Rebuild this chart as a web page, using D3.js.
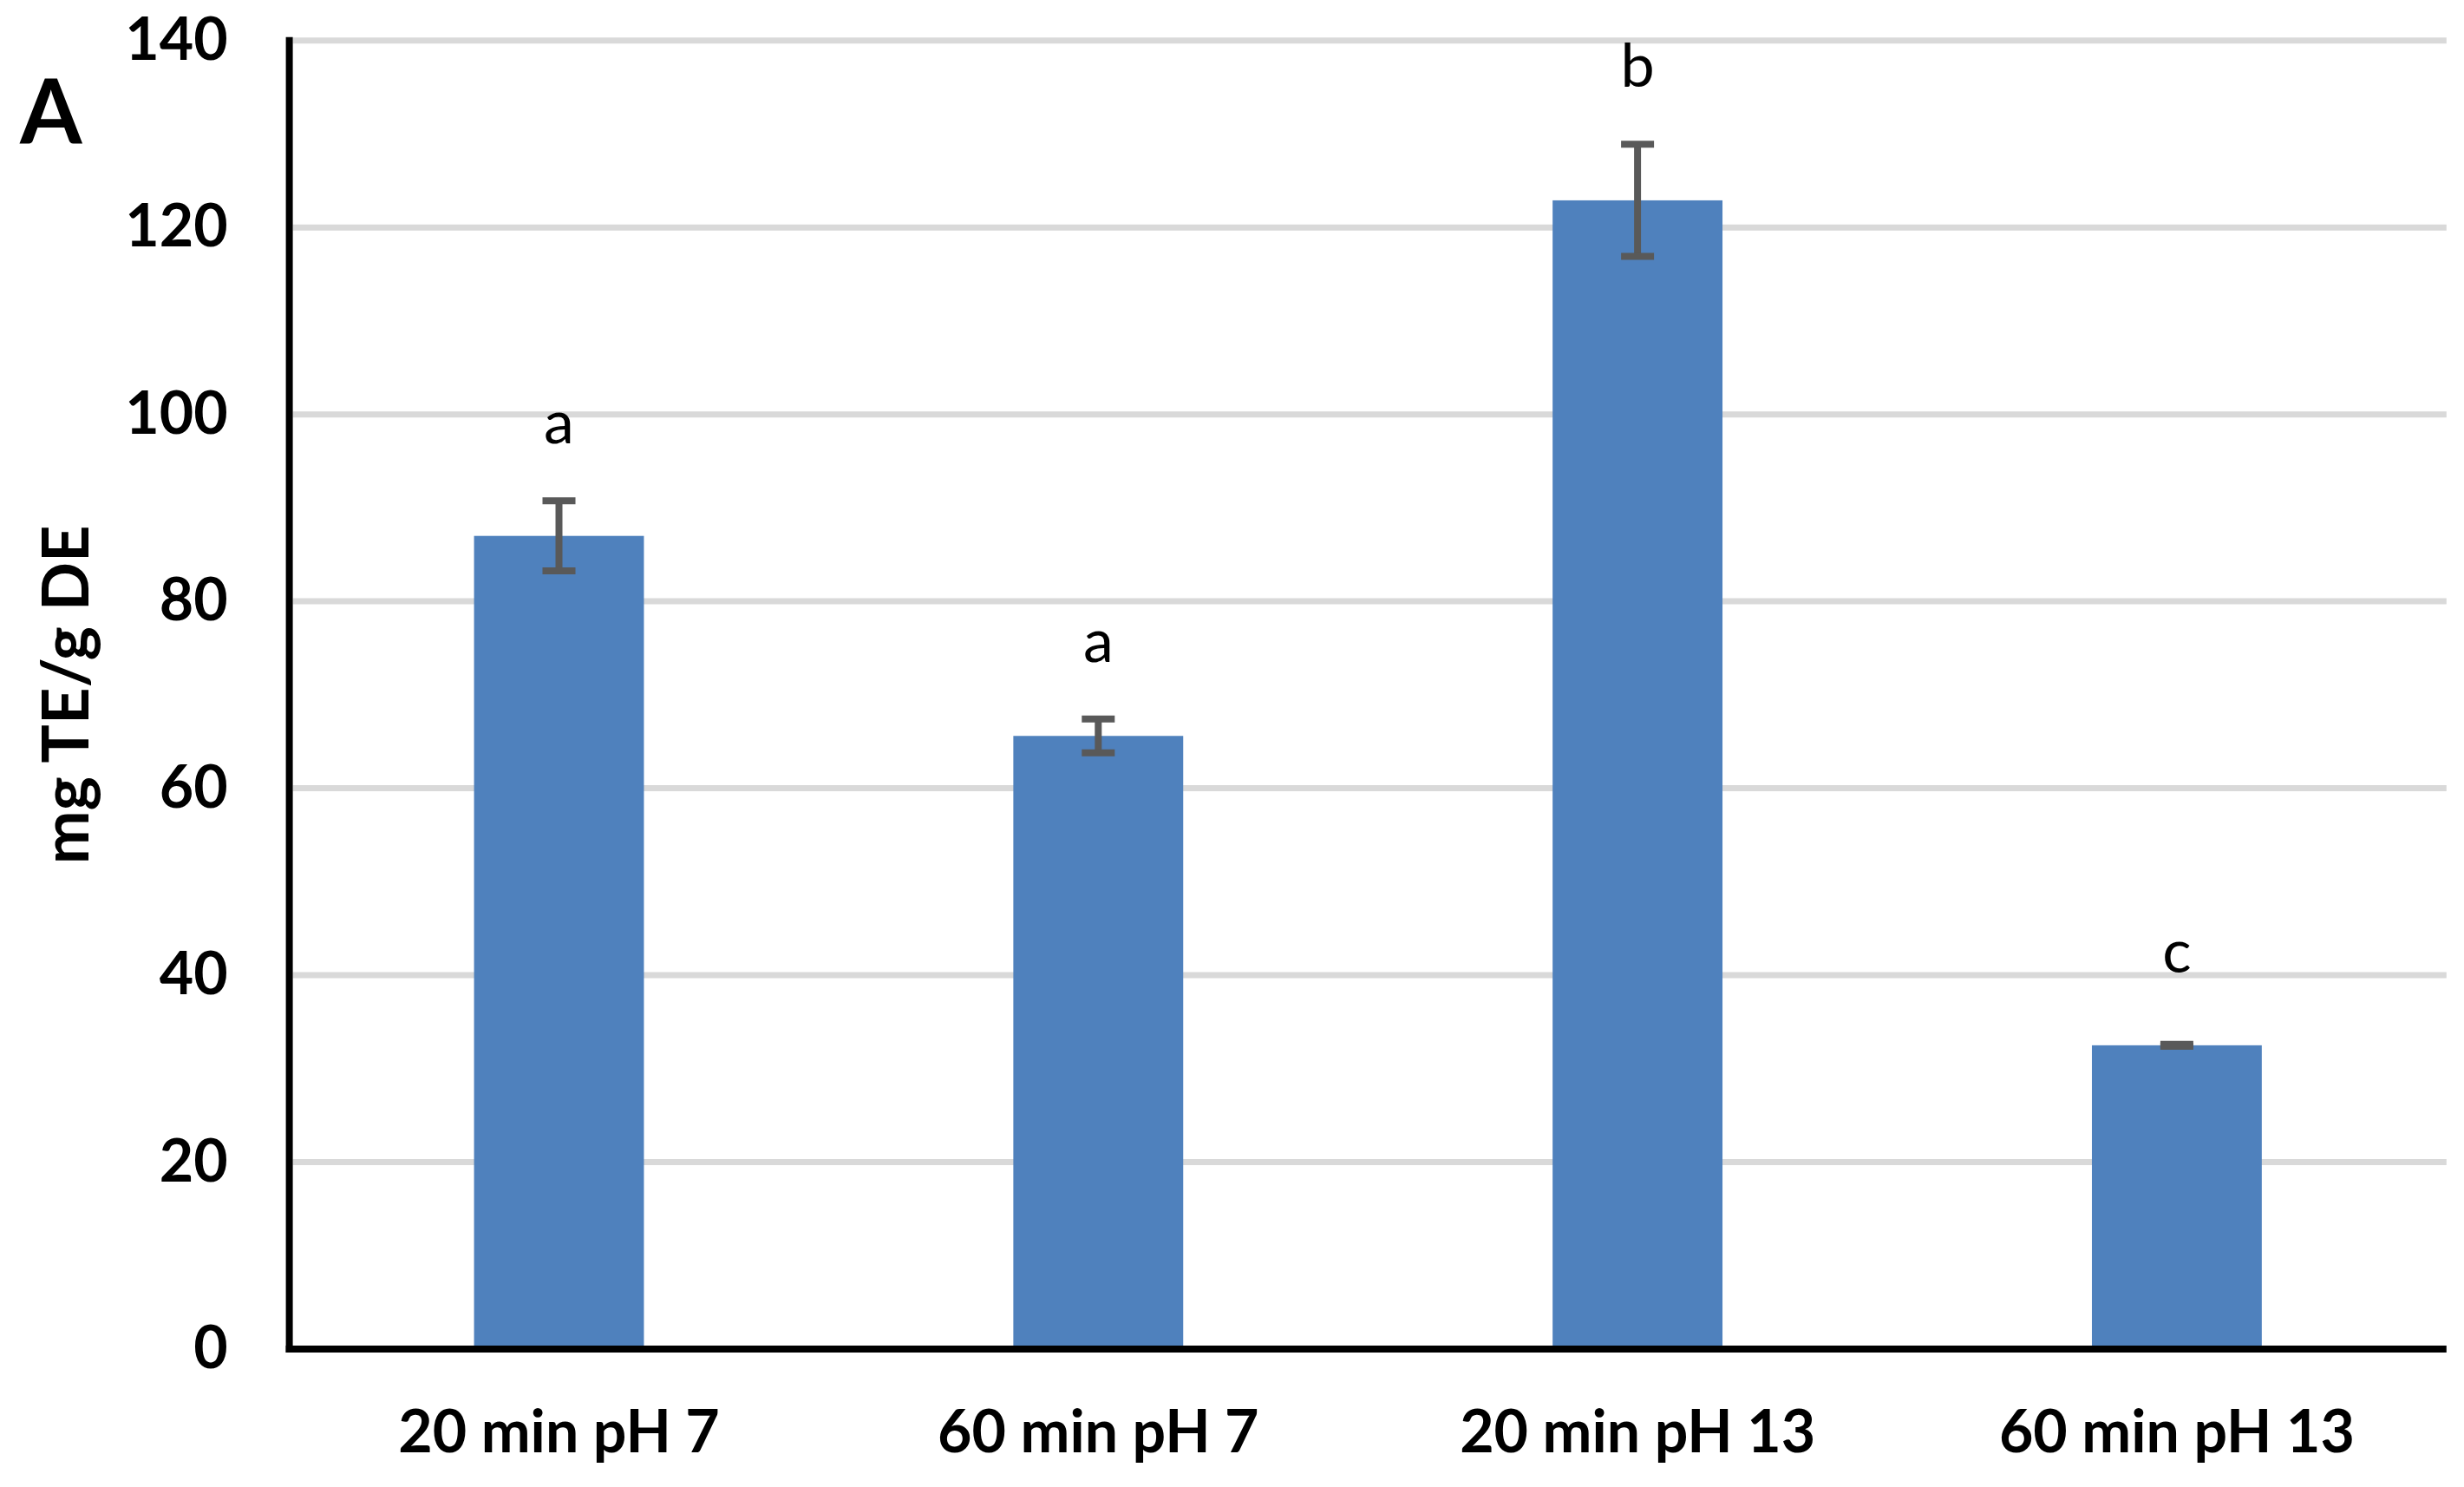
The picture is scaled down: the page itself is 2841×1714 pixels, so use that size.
<!DOCTYPE html>
<html>
<head>
<meta charset="utf-8">
<script src="https://cdn.jsdelivr.net/npm/d3@7/dist/d3.min.js"></script>
<style>
  html, body { margin: 0; padding: 0; background: #ffffff; }
  svg { display: block; }
</style>
</head>
<body>
<svg id="chart" width="2841" height="1714"></svg>
<script>
// ---- data ----
const categories = ["20 min pH 7", "60 min pH 7", "20 min pH 13", "60 min pH 13"];
const values = [87.0, 65.6, 122.9, 32.5];
const errors = [3.75, 1.8, 6.0, 0.1];
const letters = ["a", "a", "b", "c"];
const yTicks = [0, 20, 40, 60, 80, 100, 120, 140];
const yTitle = "mg TE/g DE";
const panelLabel = "A";

(function () {
// ---- layout ----
const mLeft = 333.6, mRight = 2820.8, mTop = 46.7, mBottom = 1555;
const svg = d3.select("#chart");

const x = d3.scaleBand().domain(categories).range([mLeft, mRight])
  .paddingInner(0.685).paddingOuter(0.3425);
const y = d3.scaleLinear().domain([0, 140]).range([mBottom, mTop]);

const boldFont = "Lato, 'Open Sans', sans-serif";

// gridlines
svg.append("g").selectAll("line")
  .data(yTicks.filter(d => d > 0))
  .join("line")
  .attr("x1", mLeft + 4).attr("x2", mRight)
  .attr("y1", d => y(d)).attr("y2", d => y(d))
  .attr("stroke", "#d9d9d9").attr("stroke-width", 7);

// bars
svg.append("g").selectAll("rect")
  .data(categories)
  .join("rect")
  .attr("x", d => x(d))
  .attr("width", x.bandwidth())
  .attr("y", (d, i) => y(values[i]))
  .attr("height", (d, i) => y(0) - y(values[i]))
  .attr("fill", "#4f81bd");

// error bars
const eb = svg.append("g").attr("stroke", "#595959").attr("stroke-width", 8);
const capW = 38;
categories.forEach((c, i) => {
  const cx = x(c) + x.bandwidth() / 2;
  const hi = y(values[i] + errors[i]);
  const lo = y(values[i] - errors[i]);
  eb.append("line").attr("x1", cx).attr("x2", cx).attr("y1", hi).attr("y2", lo);
  eb.append("line").attr("x1", cx - capW / 2).attr("x2", cx + capW / 2).attr("y1", hi).attr("y2", hi);
  eb.append("line").attr("x1", cx - capW / 2).attr("x2", cx + capW / 2).attr("y1", lo).attr("y2", lo);
});

// significance letters
svg.append("g").selectAll("text")
  .data(categories)
  .join("text")
  .attr("x", d => x(d) + x.bandwidth() / 2)
  .attr("y", (d, i) => Math.min(y(values[i] + errors[i]) - 66, y(values[i]) - 84))
  .attr("text-anchor", "middle")
  .attr("font-family", boldFont)
  .attr("font-size", 70)
  .attr("fill", "#000")
  .text((d, i) => letters[i]);

// axis lines
svg.append("line").attr("x1", mLeft).attr("x2", mLeft).attr("y1", mTop - 4).attr("y2", mBottom + 4)
  .attr("stroke", "#000").attr("stroke-width", 8);
svg.append("line").attr("x1", mLeft - 4).attr("x2", mRight).attr("y1", mBottom).attr("y2", mBottom)
  .attr("stroke", "#000").attr("stroke-width", 8);

// y axis tick labels
const yAxis = d3.axisLeft(y).tickValues(yTicks).tickSize(0).tickPadding(71);
const gy = svg.append("g").attr("transform", `translate(${mLeft},0)`).call(yAxis);
gy.select(".domain").remove();
gy.selectAll("text")
  .attr("font-family", boldFont).attr("font-weight", 700)
  .attr("font-size", 68).attr("fill", "#000");

// x axis tick labels
const xAxis = d3.axisBottom(x).tickSize(0).tickPadding(0);
const gx = svg.append("g").attr("transform", `translate(0,${mBottom})`).call(xAxis);
gx.select(".domain").remove();
gx.selectAll("text")
  .attr("y", 119).attr("dy", 0)
  .attr("font-family", boldFont).attr("font-weight", 700)
  .attr("font-size", 68).attr("fill", "#000");

// y title
svg.append("text")
  .attr("transform", `translate(102,${(mTop + mBottom) / 2}) rotate(-90)`)
  .attr("text-anchor", "middle")
  .attr("font-family", boldFont).attr("font-weight", 700)
  .attr("font-size", 74).attr("fill", "#000")
  .text(yTitle);

// panel label
svg.append("text")
  .attr("x", 23).attr("y", 165)
  .attr("font-family", boldFont).attr("font-weight", 700)
  .attr("font-size", 103).attr("fill", "#000")
  .text(panelLabel);
})();
</script>
</body>
</html>
